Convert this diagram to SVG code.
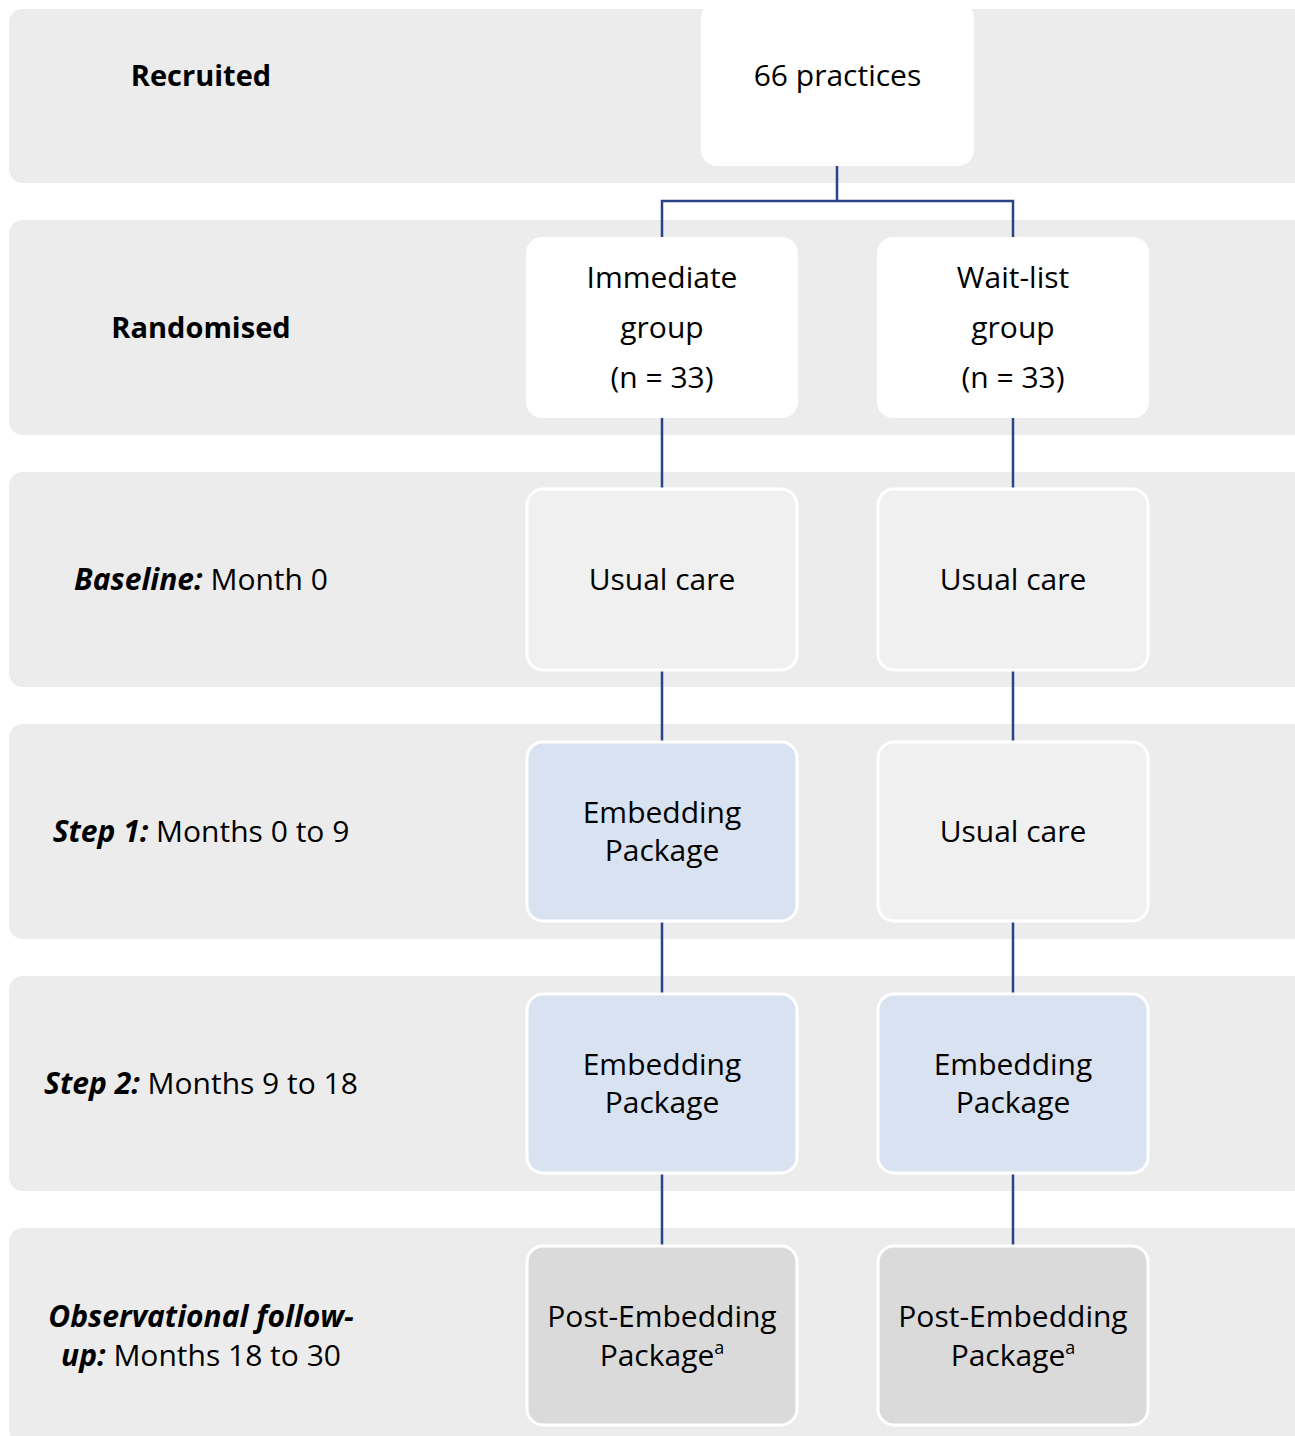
<svg xmlns="http://www.w3.org/2000/svg" width="1295" height="1436" viewBox="0 0 1295 1436">
<defs>
<style>
.band{fill:#ececec}
.t{font-family:"Open Sans","Noto Sans",sans-serif;font-size:30px;fill:#000;text-anchor:middle}
.b{font-weight:bold;font-size:29px}
.i{font-style:italic;font-weight:bold}
.w{fill:#ffffff}
.u{fill:#f0f0f0;stroke:#ffffff;stroke-width:3}
.e{fill:#d9e2f1;stroke:#ffffff;stroke-width:3}
.p{fill:#dadada;stroke:#ffffff;stroke-width:3}
.c{fill:none;stroke:#2b4287;stroke-width:2.5}
</style>
</defs>
<rect width="1295" height="1436" fill="#ffffff"/>
<g id="bands">
<rect class="band" x="9" y="9" width="1300" height="174" rx="14"/>
<rect class="band" x="9" y="220" width="1300" height="215" rx="14"/>
<rect class="band" x="9" y="472" width="1300" height="215" rx="14"/>
<rect class="band" x="9" y="724" width="1300" height="215" rx="14"/>
<rect class="band" x="9" y="976" width="1300" height="215" rx="14"/>
<rect class="band" x="9" y="1228" width="1300" height="215" rx="14"/>
</g>
<g id="row-labels">
<text class="t b" x="201" y="86">Recruited</text>
<text class="t b" x="201" y="338">Randomised</text>
<text class="t" x="201" y="590"><tspan class="i">Baseline:</tspan> Month 0</text>
<text class="t" x="201" y="842"><tspan class="i">Step 1:</tspan> Months 0 to 9</text>
<text class="t" x="201" y="1094"><tspan class="i">Step 2:</tspan> Months 9 to 18</text>
<text class="t" x="201" y="1327"><tspan class="i">Observational follow-</tspan></text>
<text class="t" x="201" y="1366"><tspan class="i">up:</tspan> Months 18 to 30</text>
</g>
<g id="connectors">
<path class="c" d="M837,166 V201 M662,237 V201 H1013 V237"/>
<path class="c" d="M662,418 V489 M1013,418 V489"/>
<path class="c" d="M662,670 V742 M1013,670 V742"/>
<path class="c" d="M662,921 V994 M1013,921 V994"/>
<path class="c" d="M662,1173 V1246 M1013,1173 V1246"/>
</g>
<g id="n-practices">
<rect class="w" x="701" y="2" width="273" height="164" rx="16"/>
<text class="t" x="837.5" y="86">66 practices</text>
</g>
<g id="n-immediate">
<rect class="w" x="526" y="237" width="272" height="181" rx="16"/>
<text class="t" x="662" y="288">Immediate</text>
<text class="t" x="662" y="338">group</text>
<text class="t" x="662" y="388">(n = 33)</text>
</g>
<g id="n-waitlist">
<rect class="w" x="877" y="237" width="272" height="181" rx="16"/>
<text class="t" x="1013" y="288">Wait-list</text>
<text class="t" x="1013" y="338">group</text>
<text class="t" x="1013" y="388">(n = 33)</text>
</g>
<g id="n-usual-imm">
<rect class="u" x="527" y="489" width="270" height="181" rx="16"/>
<text class="t" x="662" y="590">Usual care</text>
</g>
<g id="n-usual-wait">
<rect class="u" x="878" y="489" width="270" height="181" rx="16"/>
<text class="t" x="1013" y="590">Usual care</text>
</g>
<g id="n-embed1-imm">
<rect class="e" x="527" y="742" width="270" height="179" rx="16"/>
<text class="t" x="662" y="823">Embedding</text>
<text class="t" x="662" y="861">Package</text>
</g>
<g id="n-usual2-wait">
<rect class="u" x="878" y="742" width="270" height="179" rx="16"/>
<text class="t" x="1013" y="842">Usual care</text>
</g>
<g id="n-embed2-imm">
<rect class="e" x="527" y="994" width="270" height="179" rx="16"/>
<text class="t" x="662" y="1075">Embedding</text>
<text class="t" x="662" y="1113">Package</text>
</g>
<g id="n-embed2-wait">
<rect class="e" x="878" y="994" width="270" height="179" rx="16"/>
<text class="t" x="1013" y="1075">Embedding</text>
<text class="t" x="1013" y="1113">Package</text>
</g>
<g id="n-post-imm">
<rect class="p" x="527" y="1246" width="270" height="179" rx="16"/>
<text class="t" x="662" y="1327">Post-Embedding</text>
<text class="t" x="662" y="1366">Package<tspan font-size="18" dy="-12">a</tspan></text>
</g>
<g id="n-post-wait">
<rect class="p" x="878" y="1246" width="270" height="179" rx="16"/>
<text class="t" x="1013" y="1327">Post-Embedding</text>
<text class="t" x="1013" y="1366">Package<tspan font-size="18" dy="-12">a</tspan></text>
</g>
</svg>
